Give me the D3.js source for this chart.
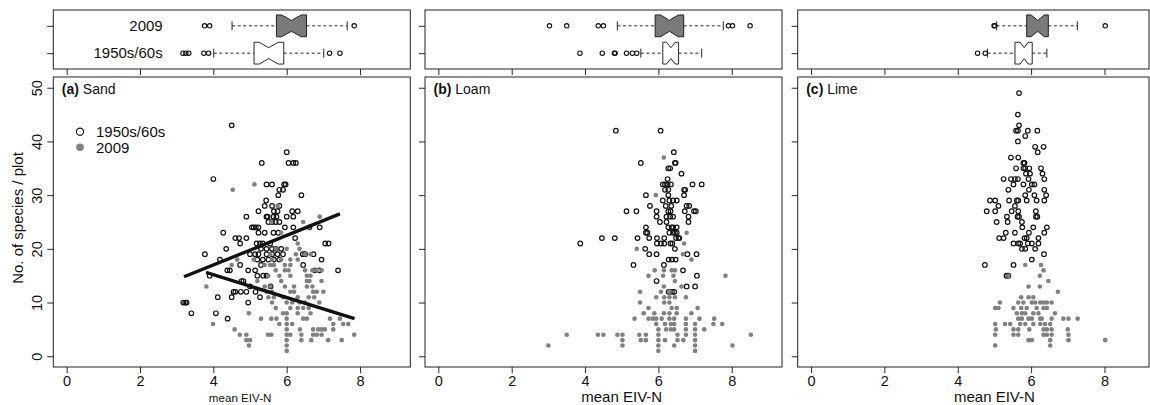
<!DOCTYPE html>
<html>
<head>
<meta charset="utf-8">
<script src="https://cdn.jsdelivr.net/npm/d3@7"></script>
<style>
  body { margin: 0; background: #fff; }
  text { font-family: "Liberation Sans", Arial, sans-serif; fill: #111; }
</style>
</head>
<body>
<div id="chart"></div>
<script>
// categories / ticks
let panelNames = ["Sand", "Loam", "Lime"];
let panelLetters = ["(a)", "(b)", "(c)"];
let groupNames = ["1950s/60s", "2009"];
let xTicks = [0, 2, 4, 6, 8];
let yTicks = [0, 10, 20, 30, 40, 50];

// boxplot stats: [lower whisker, q1, median, q3, upper whisker, notch half-width]
let boxSandOld = [4.01, 5.11, 5.51, 5.92, 7.01, 0.26];
let boxSandNew = [4.51, 5.72, 6.13, 6.54, 7.65, 0.27];
let boxLoamOld = [5.52, 6.12, 6.34, 6.55, 7.18, 0.12];
let boxLoamNew = [4.88, 5.91, 6.30, 6.69, 7.77, 0.24];
let boxLimeOld = [4.81, 5.56, 5.81, 6.03, 6.43, 0.11];
let boxLimeNew = [5.06, 5.88, 6.18, 6.47, 7.26, 0.18];

let outSandOld = [3.17, 3.25, 3.33, 3.74, 3.87, 7.17, 7.45];
let outSandNew = [3.76, 3.9, 7.84];
let outLoamOld = [3.86, 4.47, 4.8, 4.82, 5.13, 5.29, 5.41];
let outLoamNew = [3.03, 3.5, 4.36, 4.5, 7.91, 8.02, 8.5];
let outLimeOld = [4.54, 4.75];
let outLimeNew = [4.99, 5.01, 8.02];

// regression lines (sand only): [x, y] end points
let lineSandOld = [[3.2, 14.8], [7.45, 26.5]];
let lineSandNew = [[3.8, 15.6], [7.85, 7.0]];

// scatter points [mean EIV-N, species per plot]
let sandOld = [
  [4.5,43],[6.0,38],[5.32,36],[6.05,36],[6.18,36],[6.25,36],[4.0,33],
  [5.45,32],[5.6,32],[5.93,32],[5.97,32],[5.8,31],[5.9,31],[5.77,30],[6.4,30],
  [5.44,29],[5.4,28],[5.6,28],[5.8,28],[5.65,27],[5.75,27],[6.15,27],[6.3,27],[5.23,27],
  [4.9,26],[5.45,26],[5.48,26],[5.64,26],[6.0,26],[6.18,26],[5.72,26],
  [5.05,24],[5.1,24],[5.16,24],[5.23,24],[5.5,25],[5.6,25],[5.7,25],[5.8,25],[5.95,24],[6.18,24],[6.62,24],[6.9,24],
  [4.27,23],[5.23,23],[5.4,23],[5.64,23],[5.77,23],[4.6,22],[4.7,22],[4.9,22],[6.23,22],
  [4.73,21],[5.18,21],[5.27,21],[5.35,21],[5.55,21],[7.05,21],[7.14,21],
  [5.7,20],[5.85,20],[4.35,20],[5.45,20],[5.6,20],[5.3,20],
  [3.77,19],[5.0,19],[5.14,19],[5.23,19],[5.45,19],[5.6,19],[5.75,19],[5.9,19],[6.44,19],[6.5,19],[6.73,19],
  [4.18,18],[5.2,18],[5.35,18],[5.5,18],[5.65,18],[5.8,18],[6.95,18],
  [4.73,17],[6.45,17],[5.3,17],
  [3.9,15],[4.38,16],[4.45,16],[4.95,16],[5.14,16],[5.36,15],[5.45,15],[5.2,15],[6.77,16],[6.9,16],[7.4,16],
  [4.77,14],[4.82,14],[5.56,13],[5.0,13],
  [4.55,12],[4.6,12],[4.5,11],[4.12,11],[4.75,12],[4.9,12],[5.15,12],[5.27,11],
  [3.18,10],[3.23,10],[3.27,10],[4.95,10],[3.4,8],[4.07,8],[4.39,7]
];
let sandNew = [
  [5.12,32],[4.53,31],[6.9,26],[5.75,28],[5.58,25],[5.85,23],[6.3,21],[6.6,24],[6.45,25],
  [5.7,20],[6.0,20],[6.35,20],
  [5.55,19],[6.25,19],[6.5,19],[6.65,19],
  [4.65,18],[5.1,18],[5.6,18],[5.85,18],[6.1,18],[6.3,18],
  [4.5,17],[5.4,17],[5.55,17],[5.65,17],[5.95,17],[6.1,17],
  [5.7,16],[5.95,16],[6.05,16],[6.5,16],[6.7,16],[6.8,16],[6.95,16],
  [5.5,15],[5.8,15],[6.1,15],[6.55,15],[6.65,15],
  [5.2,14],[5.85,14],[6.55,14],[6.62,14],[6.95,14],
  [3.81,13],[5.4,13],[5.55,13],[5.95,13],[6.2,13],[6.55,13],[6.7,13],
  [5.45,12],[5.6,12],[6.1,12],[6.2,12],[6.72,12],[6.82,12],[7.0,12],
  [5.5,11],[5.65,11],[5.9,11],[6.3,11],[6.6,11],[6.75,11],
  [5.6,10],[6.0,10],[6.15,10],[6.35,10],[6.5,10],[6.89,10],
  [5.7,9],[6.1,9],[6.3,9],[6.45,9],[6.6,9],
  [4.97,8],[5.9,8],[6.0,8],[6.3,8],[6.65,8],
  [5.3,7],[5.58,7],[5.72,7],[6.0,7],[6.45,7],[6.55,7],[7.18,7],[7.45,7],
  [3.99,6],[5.8,6],[6.0,6],[6.15,6],[7.27,6],[7.54,6],[7.68,6],
  [4.58,5],[6.0,5],[6.36,5],[6.72,5],[6.86,5],[6.95,5],[7.04,5],[7.27,5],
  [4.72,4],[4.9,4],[5.49,4],[5.58,4],[6.0,4],[6.1,4],[6.4,4],[6.72,4],[6.82,4],[6.95,4],[7.84,4],
  [5.0,3],[4.9,3],[6.0,3],[6.4,3],[6.67,3],[7.13,3],[7.5,3],
  [4.97,2],[6.0,2],[6.0,1]
];
let loamOld = [
  [4.84,42],[6.06,42],[6.42,38],[5.52,36],[6.45,36],[6.47,36],[6.27,35],[6.32,35],[6.63,34],[6.25,33],
  [6.93,32],[7.18,32],[6.12,32],[6.18,32],[6.25,32],[6.34,32],[6.7,31],[6.73,31],[6.18,31],[6.27,31],
  [5.66,30],[6.27,30],[6.7,30],
  [6.12,29],[6.3,29],[6.4,29],[6.5,29],[5.77,28],[6.2,28],[6.35,28],[6.77,28],[6.84,28],
  [5.13,27],[5.4,27],[6.27,27],[6.33,27],[6.72,27],[6.97,27],[7.02,27],[5.95,27],
  [5.95,26],[6.22,26],[6.32,26],[6.4,26],[6.82,26],[6.04,25],[6.22,25],[6.82,25],
  [5.66,24],[6.27,24],[6.36,24],[6.4,24],[6.5,24],[5.66,23],[5.7,23],[6.3,23],[6.4,23],[6.45,23],[6.5,23],
  [6.57,22],[6.55,22],[4.46,22],[4.81,22],[5.43,22],[5.75,22],[5.96,22],[6.16,22],[6.48,22],
  [3.87,21],[5.96,21],[6.07,21],[6.16,21],[6.33,21],[6.38,21],
  [5.64,20],[6.45,20],[5.75,19],[5.95,19],[6.79,19],[7.04,19],
  [6.28,18],[6.37,18],[6.47,18],[5.32,17],[6.15,17],[6.67,16],[7.05,15],[5.95,14],
  [6.77,13],[7.0,13],[6.28,12],[6.37,12],[6.43,12]
];
let loamNew = [
  [6.15,37],[5.93,30],[6.77,23],[6.7,21],[5.41,20],[6.67,19],[6.9,18],
  [5.9,16],[6.15,16],[6.36,16],[6.45,16],
  [5.73,15],[6.13,15],[6.41,15],[7.83,15],
  [6.45,14],[6.15,13],[6.63,13],[5.5,12],[6.07,12],[6.3,12],
  [5.94,11],[6.16,11],[6.3,11],[6.45,11],[6.75,11],
  [5.5,10],[6.16,10],[6.3,10],
  [5.73,9],[6.36,9],[6.5,9],[7.07,9],
  [5.6,8],[5.89,8],[6.15,8],[6.3,8],[6.5,8],[6.9,8],
  [5.35,7],[5.73,7],[5.85,7],[5.94,7],[6.09,7],[6.3,7],[6.43,7],[6.75,7],[7.12,7],[7.52,7],
  [5.94,6],[6.18,6],[6.34,6],[6.43,6],[6.75,6],[7.0,6],[7.5,6],[7.74,6],
  [6.0,5],[6.21,5],[6.34,5],[6.43,5],[6.75,5],[7.0,5],[7.25,5],
  [3.5,4],[4.35,4],[4.5,4],[4.88,4],[5.02,4],[5.48,4],[5.66,4],[6.0,4],[6.52,4],[6.75,4],[7.0,4],[8.52,4],
  [5.02,3],[5.52,3],[5.66,3],[6.0,3],[6.18,3],[6.52,3],[6.68,3],[7.0,3],
  [3.0,2],[5.02,2],[6.0,2],[6.43,2],[7.0,2],[8.02,2],
  [6.0,1],[7.0,1]
];
let limeOld = [
  [5.67,49],[5.64,45],[5.67,43],[5.59,42],[5.64,42],[5.91,42],[6.17,42],[5.84,41],[5.64,40],
  [6.11,39],[6.34,39],[6.18,38],[5.45,37],[5.65,37],[5.79,36],[5.82,36],
  [5.59,35],[5.79,35],[5.84,35],[5.95,35],[6.27,35],[5.86,34],[5.97,34],[6.31,34],
  [5.25,33],[5.45,33],[5.56,33],[5.64,33],[5.93,33],[6.36,33],
  [5.52,32],[5.79,32],[6.02,32],[6.09,32],[5.38,31],[5.94,31],[6.36,31],
  [5.84,30],[6.09,30],[6.41,30],[4.88,29],[5.02,29],[5.4,29],[5.61,29],[5.65,29],[5.88,29],[6.15,29],[6.36,29],
  [5.11,28],[5.56,28],[4.79,27],[5.02,27],[5.47,27],[5.65,27],[6.13,27],
  [5.34,26],[5.63,26],[5.67,26],[6.13,26],[6.17,26],[5.06,25],[5.36,25],[5.75,25],
  [5.76,24],[6.06,24],[6.43,24],[5.31,23],[5.56,23],[5.94,23],[6.36,23],
  [5.13,22],[5.25,22],[5.82,22],[5.88,22],[6.2,22],
  [5.52,21],[5.65,21],[5.7,21],[5.91,21],[6.02,21],[6.2,21],
  [5.75,20],[5.84,20],[6.11,20],[6.35,19],[6.02,18],[4.74,17],[5.52,17],[5.33,15],[5.38,15]
];
let limeNew = [
  [5.84,17],[6.27,17],[6.34,16],[5.38,15],[6.24,15],[6.47,14],[5.93,13],[6.24,13],[6.73,12],
  [5.73,11],[5.93,11],[6.06,11],
  [5.15,10],[5.65,10],[5.79,10],[6.02,10],[6.11,10],[6.25,10],[6.34,10],[6.43,10],[6.56,10],
  [5.02,9],[5.11,9],[5.52,9],[5.73,9],[5.88,9],[6.15,9],[6.34,9],[6.43,9],
  [5.61,8],[5.75,8],[5.84,8],[6.06,8],[6.2,8],[6.65,8],
  [5.65,7],[5.75,7],[5.93,7],[6.02,7],[6.25,7],[6.29,7],[6.56,7],[6.88,7],[7.02,7],[7.27,7],
  [5.02,6],[5.29,6],[5.43,6],[5.7,6],[5.84,6],[6.06,6],[6.25,6],[6.38,6],[6.52,6],
  [5.04,5],[5.52,5],[5.65,5],[5.95,5],[6.34,5],[6.43,5],[6.56,5],[7.0,5],
  [5.02,4],[5.52,4],[5.65,4],[6.34,4],[6.43,4],[6.56,4],[7.02,4],
  [5.93,3],[6.02,3],[6.52,3],[7.02,3],[8.02,3],
  [5.02,2],[6.52,2]
];

let scatterOld = [sandOld, loamOld, limeOld];
let scatterNew = [sandNew, loamNew, limeNew];
let boxOld = [boxSandOld, boxLoamOld, boxLimeOld];
let boxNew = [boxSandNew, boxLoamNew, boxLimeNew];
let outOld = [outSandOld, outLoamOld, outLimeOld];
let outNew = [outSandNew, outLoamNew, outLimeNew];

// layout
let svgWidth = 1150, svgHeight = 405;
let panelLeft = [53.3, 425, 797.7];
let panelW = 357;
let rightLimit = 1149;
let sTop = 77, sBot = 367;
let bTop = 10, bBot = 69;
let grey = "#808080";
let boxGrey = "#7a7a7a";
let titleAt = [4.73, 5.0, 5.0];

let svg = d3.select("#chart")
  .append("svg")
  .attr("width", svgWidth)
  .attr("height", svgHeight);

svg.append("rect").attr("width", svgWidth).attr("height", svgHeight).attr("fill", "#fff");

let yScale = d3.scaleLinear().domain([-2, 52]).range([sBot, sTop]);
let yBox = d3.scaleLinear().domain([0.42, 2.58]).range([bBot, bTop]);

function styleAxis(g, fontSize) {
  g.select(".domain").remove();
  g.selectAll(".tick line").attr("stroke", "#111").attr("stroke-width", 0.9);
  g.selectAll(".tick text").attr("font-size", fontSize).attr("fill", "#111")
    .attr("font-family", "'Liberation Sans', Arial, sans-serif");
}

function drawBox(g, x, stats, outs, row, fill) {
  let [lo, q1, med, q3, hi, n] = stats;
  let cy = yBox(row);
  let hw = 10.9;
  let pts = [
    [x(q1), cy - hw], [x(med - n), cy - hw], [x(med), cy - hw / 2], [x(med + n), cy - hw], [x(q3), cy - hw],
    [x(q3), cy + hw], [x(med + n), cy + hw], [x(med), cy + hw / 2], [x(med - n), cy + hw], [x(q1), cy + hw]
  ];
  // whiskers
  [[lo, q1], [q3, hi]].forEach(function(seg) {
    g.append("line")
      .attr("x1", x(seg[0])).attr("x2", x(seg[1]))
      .attr("y1", cy).attr("y2", cy)
      .attr("stroke", "#111").attr("stroke-width", 0.9)
      .attr("stroke-dasharray", "3,2.6");
  });
  [lo, hi].forEach(function(v) {
    g.append("line")
      .attr("x1", x(v)).attr("x2", x(v))
      .attr("y1", cy - 4.5).attr("y2", cy + 4.5)
      .attr("stroke", "#111").attr("stroke-width", 0.9);
  });
  g.append("polygon")
    .attr("points", pts.map(p => p.join(",")).join(" "))
    .attr("fill", fill).attr("stroke", "#111").attr("stroke-width", 0.9);
  g.selectAll(null).data(outs).enter()
    .append("circle")
    .attr("cx", d => x(d)).attr("cy", cy).attr("r", 2.2)
    .attr("fill", "none").attr("stroke", "#111").attr("stroke-width", 1.1);
}

panelNames.forEach(function(name, i) {
  let left = panelLeft[i];
  let w = Math.min(panelW, rightLimit - left);
  let x = d3.scaleLinear().domain([-0.364, 9.37]).range([left, left + panelW]);
  let g = svg.append("g");

  // ---- top boxplot panel ----
  let bg = g.append("g");
  drawBox(bg, x, boxNew[i], outNew[i], 2, boxGrey);
  drawBox(bg, x, boxOld[i], outOld[i], 1, "#fff");
  bg.append("rect")
    .attr("x", left).attr("y", bTop).attr("width", w).attr("height", bBot - bTop)
    .attr("fill", "none").attr("stroke", "#222").attr("stroke-width", 1);

  // box panel ticks
  let bx = bg.append("g").attr("transform", "translate(0," + bBot + ")")
    .call(d3.axisBottom(x).tickValues(xTicks).tickSize(6).tickFormat(""));
  styleAxis(bx, 14);
  let by = bg.append("g").attr("transform", "translate(" + left + ",0)")
    .call(d3.axisLeft(yBox).tickValues([1, 2]).tickSize(6).tickFormat(""));
  styleAxis(by, 14);

  if (i === 0) {
    [1, 2].forEach(function(row) {
      bg.append("text")
        .attr("x", left + 109.4).attr("y", yBox(row) + 5)
        .attr("text-anchor", "end").attr("font-size", 15)
        .text(groupNames[row - 1]);
    });
  }

  // ---- scatter panel ----
  let sg = g.append("g");
  sg.selectAll(".old").data(scatterOld[i]).enter()
    .append("circle")
    .attr("cx", d => x(d[0])).attr("cy", d => yScale(d[1])).attr("r", 2.3)
    .attr("fill", "none").attr("stroke", "#111").attr("stroke-width", 1.2);
  sg.selectAll(".new").data(scatterNew[i]).enter()
    .append("circle")
    .attr("cx", d => x(d[0])).attr("cy", d => yScale(d[1])).attr("r", 2.3)
    .attr("fill", grey);

  if (i === 0) {
    let line = d3.line().x(d => x(d[0])).y(d => yScale(d[1]));
    [lineSandOld, lineSandNew].forEach(function(l) {
      sg.append("path").attr("d", line(l))
        .attr("stroke", "#111").attr("stroke-width", 3.4).attr("fill", "none");
    });

    // legend
    let lg = sg.append("g").attr("transform", "translate(" + (left + 26.7) + ",131.7)");
    lg.append("circle").attr("cx", 0).attr("cy", 0).attr("r", 3.6)
      .attr("fill", "none").attr("stroke", "#111").attr("stroke-width", 1.1);
    lg.append("circle").attr("cx", 0).attr("cy", 15.6).attr("r", 3.8).attr("fill", grey);
    lg.append("text").attr("x", 16).attr("y", 5.3).attr("font-size", 15).text(groupNames[0]);
    lg.append("text").attr("x", 16).attr("y", 20.9).attr("font-size", 15).text(groupNames[1]);
  }

  sg.append("rect")
    .attr("x", left).attr("y", sTop).attr("width", w).attr("height", sBot - sTop)
    .attr("fill", "none").attr("stroke", "#222").attr("stroke-width", 1);

  // panel label
  let lab = sg.append("text").attr("x", left + 8.5).attr("y", 93.5).attr("font-size", 14);
  lab.append("tspan").attr("font-weight", "bold").text(panelLetters[i]);
  lab.append("tspan").text(" " + name);

  // x axis
  let xa = sg.append("g").attr("transform", "translate(0," + sBot + ")")
    .call(d3.axisBottom(x).tickValues(xTicks).tickSize(6).tickPadding(3));
  styleAxis(xa, 14.5);

  sg.append("text")
    .attr("x", x(titleAt[i])).attr("y", 402)
    .attr("text-anchor", "middle")
    .attr("font-size", i === 0 ? 11.6 : 15)
    .text("mean EIV-N");

  // y axis
  let ya = sg.append("g").attr("transform", "translate(" + left + ",0)")
    .call(d3.axisLeft(yScale).tickValues(yTicks).tickSize(6));
  styleAxis(ya, 14.5);
  if (i === 0) {
    ya.selectAll(".tick text")
      .attr("x", null).attr("dy", null)
      .attr("text-anchor", "middle")
      .attr("transform", "translate(-11.6,0) rotate(-90)");
  } else {
    ya.selectAll(".tick text").remove();
  }
});

// y axis title
svg.append("text")
  .attr("transform", "translate(23," + 218 + ") rotate(-90)")
  .attr("text-anchor", "middle")
  .attr("font-size", 15)
  .text("No. of species / plot");
</script>
</body>
</html>
